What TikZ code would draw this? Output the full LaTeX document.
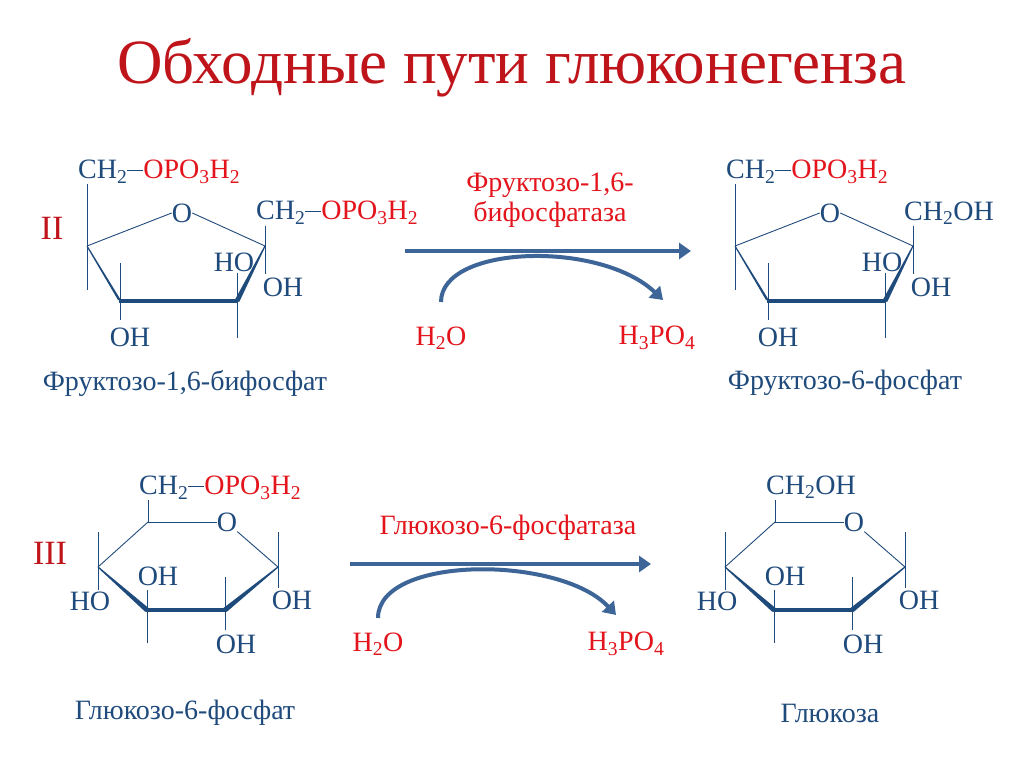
\documentclass[tikz,border=0pt]{standalone}
\usepackage{fontspec}
\setmainfont{Liberation Serif}
\usetikzlibrary{arrows.meta}
\definecolor{mb}{HTML}{1F4A7C}
\definecolor{mr}{HTML}{E3141B}
\definecolor{tr}{HTML}{C0141B}
\definecolor{ab}{HTML}{3D6597}
\newcommand{\sbs}[1]{\textsubscript{#1}}
\newcommand{\bnd}{\raisebox{0.3em}{\rule{16pt}{0.7pt}}}
\tikzset{
 t/.style={font=\fontsize{28}{30}\selectfont, text=mb, inner sep=0pt},
 tred/.style={font=\fontsize{28}{30}\selectfont, text=mr, inner sep=0pt},
 bond/.style={draw=mb, line width=0.9pt},
 thick bond/.style={draw=mb, line width=4pt},
 rarrow/.style={draw=ab, line width=4pt, -{Triangle[length=12pt,width=16pt]}},
}
\begin{document}
\begin{tikzpicture}[x=1pt,y=-1pt]
\useasboundingbox (0,0) rectangle (1024,767);
\fill[white] (0,0) rectangle (1024,767);
\node[font=\fontsize{63}{66}\selectfont, text=tr] (title) at (512,68) {Обходные пути глюконегенза};

\newcommand{\furan}[3]{%
\begin{scope}[xshift=#1]
\coordinate (#3c2) at (87,246);
\coordinate (#3c5) at (265,246);
\coordinate (#3c3) at (120,301);
\coordinate (#3c4) at (237,301);
\node[t] (#3o) at (182,213) {O};
\draw[bond] (#3c2) -- (#3o.west);
\draw[bond] (#3o.east) -- (#3c5);
\draw[bond] (87,184) -- (87,290);
\draw[bond] (265,226) -- (265,274);
\draw[bond] (120,263) -- (120,320);
\draw[bond] (237,273) -- (237,338);
\fill[mb] (86.5,246.3) -- (87.5,245.7) -- (122.2,302.3) -- (117.8,299.7) -- cycle;
\draw[thick bond] (119,301) -- (238,301);
\fill[mb] (265.5,246.3) -- (264.5,245.7) -- (234.8,299.9) -- (239.2,302.1) -- cycle;
\node[t, anchor=west] (#3top) at (78,172) {CH\sbs{2}\bnd\textcolor{mr}{OPO\sbs{3}H\sbs{2}}};
\node[t, anchor=west] (#3right) at (256,213) {#2};
\node[t] (#3ho) at (234,262) {HO};
\node[t] (#3oh1) at (283,287) {OH};
\node[t] (#3oh2) at (130,337) {OH};
\end{scope}}
\furan{0}{CH\sbs{2}\bnd\textcolor{mr}{OPO\sbs{3}H\sbs{2}}}{a}
\furan{648}{CH\sbs{2}OH}{b}

\node[font=\fontsize{34}{36}\selectfont, text=tr] (ii) at (52,228) {II};
\node[t] (n1) at (185,383) {Фруктозо-1,6-бифосфат};
\node[t] (n2) at (845,383) {Фруктозо-6-фосфат};
\node[tred, align=center] (e1) at (550,200) {Фруктозо-1,6-\\бифосфатаза};
\node[tred] (w1) at (441,338) {H\sbs{2}O};
\node[tred] (p1) at (657,338) {H\sbs{3}PO\sbs{4}};
\coordinate (s1) at (405,251);
\coordinate (f1) at (691,251);
\draw[rarrow] (s1) -- (f1);
\coordinate (cs1) at (441,302);
\coordinate (ce1) at (663,300);
\draw[rarrow] (cs1) .. controls (441,245) and (600,240) .. (ce1);

\newcommand{\pyran}[3]{%
\begin{scope}[xshift=#1]
\coordinate (#3c5) at (148,522);
\coordinate (#3c1) at (278,567);
\coordinate (#3c4) at (98,567);
\coordinate (#3c3) at (147,610);
\coordinate (#3c2) at (225,610);
\node[t] (#3o) at (227,522) {O};
\draw[bond] (#3c5) -- (#3o.west);
\draw[bond] (#3o.south east) -- (#3c1);
\draw[bond] (#3c5) -- (#3c4);
\draw[bond] (148,500) -- (#3c5);
\draw[bond] (278,532) -- (278,588);
\draw[bond] (98,532) -- (98,590);
\draw[bond] (147,590) -- (147,643);
\draw[bond] (225,577) -- (225,630);
\fill[mb] (97.6,567.45) -- (98.4,566.55) -- (148.65,608.1) -- (145.35,611.9) -- cycle;
\draw[thick bond] (146,610) -- (226,610);
\fill[mb] (278.4,567.47) -- (277.6,566.53) -- (223.4,608.05) -- (226.6,611.95) -- cycle;
\node[t, anchor=west] (#3top) at (#2) {\ifnum#1=0 CH\sbs{2}\bnd\textcolor{mr}{OPO\sbs{3}H\sbs{2}}\else CH\sbs{2}OH\fi};
\node[t] (#3oh3) at (158,576) {OH};
\node[t] (#3ho) at (90,601) {HO};
\node[t] (#3oh1) at (292,600) {OH};
\node[t] (#3oh2) at (236,644) {OH};
\end{scope}}
\pyran{0}{139,488}{c}
\pyran{627}{139,487}{d}

\node[font=\fontsize{34}{36}\selectfont, text=tr] (iii) at (50,553) {III};
\node[t] (n3) at (185,713) {Глюкозо-6-фосфат};
\node[t] (n4) at (830,713) {Глюкоза};
\node[tred] (e2) at (508,528) {Глюкозо-6-фосфатаза};
\node[tred] (w2) at (378,644) {H\sbs{2}O};
\node[tred] (p2) at (626,644) {H\sbs{3}PO\sbs{4}};
\coordinate (s2) at (350,564);
\coordinate (f2) at (651,564);
\draw[rarrow] (s2) -- (f2);
\coordinate (cs2) at (378,618);
\coordinate (ce2) at (616,615);
\draw[rarrow] (cs2) .. controls (378,555) and (560,555) .. (ce2);
\end{tikzpicture}
\end{document}
